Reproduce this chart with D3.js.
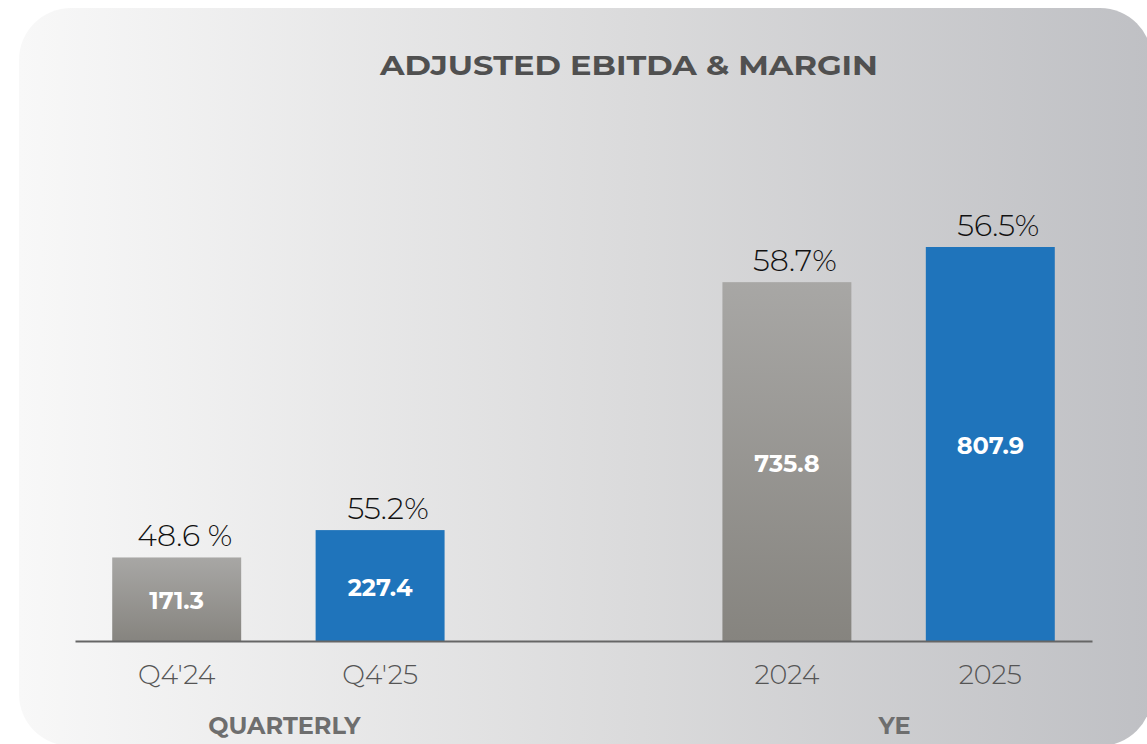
<!DOCTYPE html>
<html>
<head>
<meta charset="utf-8">
<script src="https://cdn.jsdelivr.net/npm/d3@7"></script>
<style>
  html, body { margin: 0; padding: 0; background: #fff; }
  svg { display: block; }
</style>
</head>
<body>
<svg id="chart" width="1147" height="744"></svg>
<script>
// data
const categories = ["Q4'24", "Q4'25", "", "2024", "2025"];
const ebitda = [171.3, 227.4, null, 735.8, 807.9];
const margins = ["48.6 %", "55.2%", "", "58.7%", "56.5%"];
const series = ["prev", "curr", "", "prev", "curr"];
const groups = [
  { name: "QUARTERLY", from: "Q4'24", to: "Q4'25" },
  { name: "YE", from: "2024", to: "2025" }
];

const FONT = 'Montserrat, "DejaVu Sans", sans-serif';
const svg = d3.select('#chart');
const defs = svg.append('defs');

// background panel gradient
const bg = defs.append('linearGradient').attr('id', 'bgGrad')
  .attr('x1', 0).attr('x2', 1).attr('y1', 0).attr('y2', 0);
bg.append('stop').attr('offset', '0%').attr('stop-color', '#f8f8f8');
bg.append('stop').attr('offset', '55%').attr('stop-color', '#dadadb');
bg.append('stop').attr('offset', '100%').attr('stop-color', '#bfc0c4');

// grey bar gradient
const gg = defs.append('linearGradient').attr('id', 'greyGrad')
  .attr('x1', 0).attr('x2', 0).attr('y1', 0).attr('y2', 1);
gg.append('stop').attr('offset', '0%').attr('stop-color', '#a8a7a5');
gg.append('stop').attr('offset', '100%').attr('stop-color', '#86847f');

svg.append('rect')
  .attr('x', 19).attr('y', 8)
  .attr('width', 1133).attr('height', 738)
  .attr('rx', 52).attr('ry', 52)
  .attr('fill', 'url(#bgGrad)');

const baseY = 641;
const x = d3.scaleBand()
  .domain(categories)
  .range([75, 1092])
  .paddingInner(0.366)
  .paddingOuter(0.183);

const y = d3.scaleLinear()
  .domain([0, 807.9])
  .range([baseY, 247]);

const rows = categories.map((c, i) => ({ cat: c, v: ebitda[i], m: margins[i], s: series[i] }))
  .filter(d => d.v != null);

// title
svg.append('text')
  .attr('x', 629).attr('y', 75)
  .attr('text-anchor', 'middle')
  .attr('font-family', FONT)
  .attr('font-weight', 700)
  .attr('font-size', 28)
  .attr('textLength', 498)
  .attr('lengthAdjust', 'spacingAndGlyphs')
  .attr('fill', '#505050')
  .text('ADJUSTED EBITDA & MARGIN');

// bars
svg.selectAll('rect.bar').data(rows).enter().append('rect')
  .attr('class', 'bar')
  .attr('x', d => x(d.cat))
  .attr('y', d => y(d.v))
  .attr('width', x.bandwidth())
  .attr('height', d => baseY - y(d.v))
  .attr('fill', d => d.s == 'prev' ? 'url(#greyGrad)' : '#1f74bb');

// values inside bars
svg.selectAll('text.val').data(rows).enter().append('text')
  .attr('class', 'val')
  .attr('x', d => x(d.cat) + x.bandwidth() / 2)
  .attr('y', d => (y(d.v) + baseY) / 2 + 10)
  .attr('text-anchor', 'middle')
  .attr('font-family', FONT)
  .attr('font-weight', 700)
  .attr('font-size', 24)
  .attr('fill', '#fff')
  .text(d => d.v.toFixed(1));

// margin labels above
svg.selectAll('text.pct').data(rows).enter().append('text')
  .attr('class', 'pct')
  .attr('x', d => x(d.cat) + x.bandwidth() / 2 + 8)
  .attr('y', d => y(d.v) - 11)
  .attr('text-anchor', 'middle')
  .attr('font-family', FONT)
  .attr('font-weight', 300)
  .attr('font-size', 30)
  .attr('fill', '#111')
  .text(d => d.m);

// baseline axis
const axis = d3.axisBottom(x).tickSize(0).tickPadding(24)
  .tickFormat(d => d);
const gAxis = svg.append('g').attr('transform', `translate(0,${baseY})`).call(axis);
gAxis.select('.domain').attr('stroke', '#666').attr('stroke-width', 2);
gAxis.selectAll('.tick text')
  .attr('font-family', FONT)
  .attr('font-weight', 300)
  .attr('font-size', 27)
  .attr('fill', '#555');

// group labels
svg.selectAll('text.grp').data(groups).enter().append('text')
  .attr('class', 'grp')
  .attr('x', d => (x(d.from) + x(d.to) + x.bandwidth()) / 2 + 6)
  .attr('y', 734)
  .attr('text-anchor', 'middle')
  .attr('font-family', FONT)
  .attr('font-weight', 700)
  .attr('font-size', 24)
  .attr('fill', '#6e6e6e')
  .text(d => d.name);
</script>
</body>
</html>
